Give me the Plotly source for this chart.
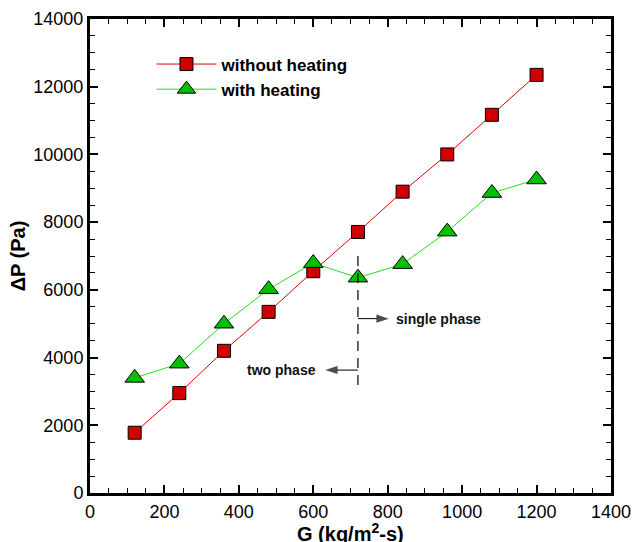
import plotly.graph_objects as go

# ---- data ----
G = [120, 240, 360, 480, 600, 720, 840, 960, 1080, 1200]
dp_without_heating = [1780, 2950, 4200, 5350, 6550, 7710, 8900, 10000, 11170, 12350]
dp_with_heating = [3400, 3820, 5000, 6020, 6790, 6360, 6760, 7720, 8860, 9260]

series_names = ["without heating", "with heating"]
x_ticks = [0, 200, 400, 600, 800, 1000, 1200, 1400]
y_ticks = [0, 2000, 4000, 6000, 8000, 10000, 12000, 14000]

# phase boundary marker
boundary_x = [720, 720]
boundary_y = [7000, 3150]
single_arrow_x = [720, 803]
single_arrow_y = [5150, 5150]
two_arrow_x = [720, 632]
two_arrow_y = [3630, 3630]
single_label = ("single phase", 817, 5150)
two_label = ("two phase", 612, 3630)

FONT = "Liberation Sans, Arial, sans-serif"

fig = go.Figure()
fig.add_trace(go.Scatter(
    x=G, y=dp_without_heating, mode="lines+markers", name=series_names[0],
    line=dict(color="#e00000", width=1),
    marker=dict(symbol="square", size=13, color="#d00000",
                line=dict(color="black", width=1)),
))
fig.add_trace(go.Scatter(
    x=G, y=dp_with_heating, mode="lines+markers", name=series_names[1],
    line=dict(color="#1ee01e", width=1),
    marker=dict(symbol="triangle-up", size=17, color="#00c000",
                line=dict(color="black", width=1)),
))
fig.add_trace(go.Scatter(
    x=boundary_x, y=boundary_y, mode="lines", showlegend=False,
    line=dict(color="black", width=1.2, dash="10px,7px"), hoverinfo="skip",
))
for ax_, ay_ in ((single_arrow_x, single_arrow_y), (two_arrow_x, two_arrow_y)):
    fig.add_trace(go.Scatter(
        x=ax_, y=ay_, mode="lines+markers", showlegend=False, hoverinfo="skip",
        line=dict(color="black", width=1),
        marker=dict(symbol=["circle", "arrow"], size=[0, 13], angleref="previous",
                    color="black", line=dict(width=0)),
    ))

fig.add_annotation(x=single_label[1], y=single_label[2], xref="x", yref="y",
                   text="<b>" + single_label[0] + "</b>", showarrow=False, xanchor="left",
                   font=dict(family=FONT, size=14, color="#111"))
fig.add_annotation(x=two_label[1], y=two_label[2], xref="x", yref="y",
                   text="<b>" + two_label[0] + "</b>", showarrow=False, xanchor="right",
                   font=dict(family=FONT, size=14, color="#111"))
# x-axis title placed in the bottom margin (partly clipped, as in the reference)
fig.add_annotation(x=0.5, y=-0.084, xref="paper", yref="paper", xanchor="center",
                   yanchor="middle", showarrow=False,
                   text="<b>G (kg/m<sup>2</sup>-s)</b>",
                   font=dict(family=FONT, size=20, color="black"))

axis_common = dict(
    showline=True, linecolor="black", linewidth=3, mirror="allticks",
    ticks="inside", ticklen=8, tickwidth=2, tickcolor="black",
    showgrid=False, zeroline=False, automargin=False,
    tickfont=dict(family=FONT, size=18, color="black"),
)

fig.update_xaxes(
    range=[0, 1400], tickvals=x_ticks, ticktext=[str(v) for v in x_ticks],
    minor=dict(dtick=50, ticks="inside", ticklen=5, tickwidth=1, tickcolor="black", showgrid=False),
    **axis_common,
)
fig.update_yaxes(
    range=[0, 14000], tickvals=y_ticks, ticktext=[str(v) for v in y_ticks],
    minor=dict(dtick=500, ticks="inside", ticklen=5, tickwidth=1, tickcolor="black", showgrid=False),
    title=dict(text="<b>ΔP (Pa)</b>", font=dict(family=FONT, size=20, color="black"),
               standoff=3),
    **axis_common,
)

fig.update_layout(
    width=633, height=542,
    margin=dict(l=90, r=22, t=19, b=49),
    paper_bgcolor="white", plot_bgcolor="white",
    showlegend=True,
    legend=dict(x=0.118, y=0.942, xanchor="left", yanchor="top",
                bgcolor="rgba(0,0,0,0)", itemwidth=60, tracegroupgap=0,
                font=dict(family=FONT, size=17, color="black", weight="bold"),
                itemsizing="trace"),
)

fig.write_html("out.html")
